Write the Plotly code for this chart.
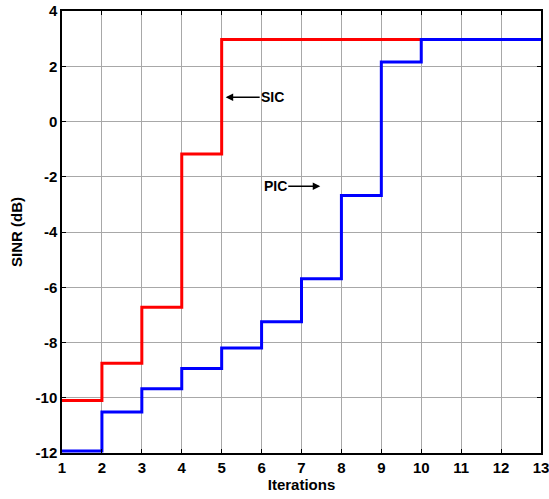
import plotly.graph_objects as go

iter_sic = [1, 2, 3, 4, 5, 6, 7, 8, 9, 10]
sinr_sic = [-10.1, -8.75, -6.72, -1.18, 2.97, 2.97, 2.97, 2.97, 2.97, 2.97]
iter_pic = [1, 2, 3, 4, 5, 6, 7, 8, 9, 10, 11, 12, 13]
sinr_pic = [-11.93, -10.52, -9.67, -8.94, -8.2, -7.25, -5.69, -2.68, 2.15, 2.97, 2.97, 2.97, 2.97]
x_ticks = list(range(1, 14))
y_ticks = list(range(-12, 5, 2))

FAM = "Liberation Sans, Arial, sans-serif"

fig = go.Figure()
fig.add_trace(go.Scatter(x=iter_sic, y=sinr_sic, mode="lines", line_shape="hv",
                         line=dict(color="#ff0000", width=3), showlegend=False))
fig.add_trace(go.Scatter(x=iter_pic, y=sinr_pic, mode="lines", line_shape="hv",
                         line=dict(color="#0000ff", width=3), showlegend=False))

fig.add_annotation(x=5.1, y=0.88, ax=47, ay=0, text="<b>SIC</b>", showarrow=True,
                   arrowhead=2, arrowsize=1, arrowwidth=1.5, arrowcolor="black",
                   font=dict(family=FAM, size=14, color="black"))
fig.add_annotation(x=7.47, y=-2.34, ax=-45, ay=0, text="<b>PIC</b>", showarrow=True,
                   arrowhead=2, arrowsize=1, arrowwidth=1.5, arrowcolor="black",
                   font=dict(family=FAM, size=14, color="black"))

axis_common = dict(showgrid=True, gridcolor="#a8a8a8", gridwidth=1, zeroline=False,
                   showline=True, linecolor="black", linewidth=1.5, mirror="ticks",
                   ticks="inside", ticklen=4, tickcolor="black", automargin=False,
                   ticklabeloverflow="allow",
                   tickfont=dict(family=FAM, size=15, color="black"))

fig.update_xaxes(range=[1, 13], tickvals=x_ticks, ticktext=[f"<b>{v}</b>" for v in x_ticks],
                 title=dict(text="<b>Iterations</b>", standoff=3,
                            font=dict(family=FAM, size=15, color="black")),
                 **axis_common)
fig.update_yaxes(range=[-12, 4], tickvals=y_ticks, ticktext=[f"<b>{v}</b>" for v in y_ticks],
                 title=dict(text="<b>SINR (dB)</b>", standoff=9,
                            font=dict(family=FAM, size=15, color="black")),
                 **axis_common)

fig.update_layout(width=549, height=499, margin=dict(l=62, r=8, t=11, b=46),
                  plot_bgcolor="white", paper_bgcolor="white")

fig.write_html("out.html")
